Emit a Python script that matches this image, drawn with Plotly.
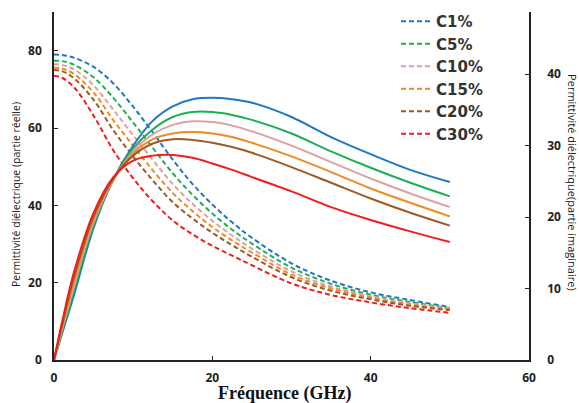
import plotly.graph_objects as go

freq = [0, 1, 2.5, 5, 7.5, 10, 12.5, 15, 17.5, 20, 22.5, 25, 30, 35, 40, 45, 50]
labels = ["C1%", "C5%", "C10%", "C15%", "C20%", "C30%"]
colors = ["#1f78c1", "#1fae55", "#dba2a2", "#f08a24", "#9c5a26", "#f21c1c"]

# real part (left axis, dashed)
real_c1 = [79.0, 78.9, 78.2, 75.8, 71.5, 65.5, 58.8, 51.8, 45.5, 40.2, 35.6, 31.6, 25.0, 20.5, 17.5, 15.5, 13.7]
real_c5 = [77.4, 77.3, 76.4, 73.1, 67.8, 61.4, 54.8, 48.3, 42.7, 37.9, 33.7, 30.1, 23.9, 19.7, 16.9, 15.0, 13.4]
real_c10 = [76.5, 76.3, 75.2, 71.0, 64.7, 58.1, 51.7, 45.5, 40.4, 36.0, 32.2, 28.8, 22.9, 19.0, 16.5, 14.7, 13.3]
real_c15 = [75.6, 75.4, 74.0, 69.2, 62.0, 55.4, 49.0, 43.2, 38.5, 34.4, 30.9, 27.8, 22.1, 18.5, 16.1, 14.3, 13.1]
real_c20 = [75.0, 74.7, 72.9, 67.3, 59.4, 52.6, 46.4, 40.8, 36.6, 32.9, 29.7, 26.7, 21.4, 17.9, 15.7, 14.0, 12.9]
real_c30 = [73.5, 73.0, 70.6, 63.2, 54.2, 47.0, 41.0, 36.1, 32.5, 29.5, 27.0, 24.5, 19.8, 16.8, 14.9, 13.4, 12.2]

# imaginary part (right axis, solid)
imag_c1 = [0, 3.6, 9.0, 18.5, 25.3, 30.0, 33.5, 35.5, 36.5, 36.7, 36.5, 36.0, 34.0, 31.2, 28.8, 26.6, 24.9]
imag_c5 = [0, 3.9, 9.6, 18.9, 25.2, 29.6, 32.3, 34.0, 34.7, 34.7, 34.3, 33.6, 31.7, 29.2, 26.9, 24.8, 22.9]
imag_c10 = [0, 4.2, 10.2, 19.3, 25.2, 29.2, 31.6, 32.9, 33.4, 33.3, 32.8, 32.0, 30.0, 27.7, 25.4, 23.3, 21.4]
imag_c15 = [0, 4.5, 10.9, 19.7, 25.3, 28.9, 30.9, 31.7, 31.9, 31.7, 31.2, 30.4, 28.5, 26.3, 24.0, 22.0, 20.1]
imag_c20 = [0, 4.8, 11.5, 20.1, 25.4, 28.6, 30.3, 30.9, 30.8, 30.4, 29.8, 29.0, 27.0, 24.8, 22.6, 20.6, 18.8]
imag_c30 = [0, 5.2, 12.2, 20.6, 25.6, 27.9, 28.6, 28.7, 28.3, 27.5, 26.6, 25.6, 23.6, 21.4, 19.6, 18.0, 16.5]

reals = [real_c1, real_c5, real_c10, real_c15, real_c20, real_c30]
imags = [imag_c1, imag_c5, imag_c10, imag_c15, imag_c20, imag_c30]

fig = go.Figure()
for lab, col, im in zip(labels, colors, imags):
    fig.add_trace(go.Scatter(x=freq, y=im, mode="lines", yaxis="y2", showlegend=False,
                             line=dict(color=col, width=2, shape="spline", smoothing=1.0)))
for lab, col, re in zip(labels, colors, reals):
    fig.add_trace(go.Scatter(x=freq, y=re, mode="lines", name=lab,
                             line=dict(color=col, width=2, dash="5px,3px", shape="spline", smoothing=1.0)))

tickfont = dict(family="Open Sans", size=12, color="#222", weight="bold")
axis_common = dict(showgrid=False, zeroline=False, showline=True, linecolor="#222", linewidth=1.5,
                   ticks="inside", ticklen=4, tickcolor="#222", tickfont=tickfont)
fig.update_layout(
    width=579, height=403,
    margin=dict(l=54, r=50, t=12, b=43, autoexpand=False),
    paper_bgcolor="white", plot_bgcolor="white",
    xaxis=dict(range=[0, 60], tickvals=[0, 20, 40, 60], ticklabelstandoff=6, automargin=False,
               **axis_common),
    yaxis=dict(range=[0, 90], tickvals=[0, 20, 40, 60, 80], ticklabelstandoff=8, automargin=False,
               **axis_common),
    yaxis2=dict(range=[0, 48.7], tickvals=[0, 10, 20, 30, 40], overlaying="y", side="right",
                ticklabelstandoff=14, automargin=False, **axis_common),
    legend=dict(x=0.72, y=1.02, xanchor="left", yanchor="top", bgcolor="rgba(0,0,0,0)",
                font=dict(family="DejaVu Sans", size=15, color="#333", weight="bold"),
                tracegroupgap=0),
    showlegend=True,
)
fig.add_annotation(text="Fréquence (GHz)", x=0.486, y=-0.095, xref="paper", yref="paper",
                   showarrow=False, xanchor="center", yanchor="middle",
                   font=dict(family="Liberation Serif", size=18, color="#111", weight="bold"))
fig.add_annotation(text="Permittivité diélectrique (partie réelle)", x=-0.08, y=0.474,
                   xref="paper", yref="paper", showarrow=False, textangle=-90,
                   xanchor="center", yanchor="middle",
                   font=dict(family="Open Sans", size=10.5, color="#222"))
fig.add_annotation(text="Permittivité diélectrique(partie imaginaire)", x=1.09, y=0.509,
                   xref="paper", yref="paper", showarrow=False, textangle=90,
                   xanchor="center", yanchor="middle",
                   font=dict(family="Open Sans", size=11, color="#222"))
fig.write_html("out.html", config={"displayModeBar": False},
               post_script="document.body.style.margin='0';")
